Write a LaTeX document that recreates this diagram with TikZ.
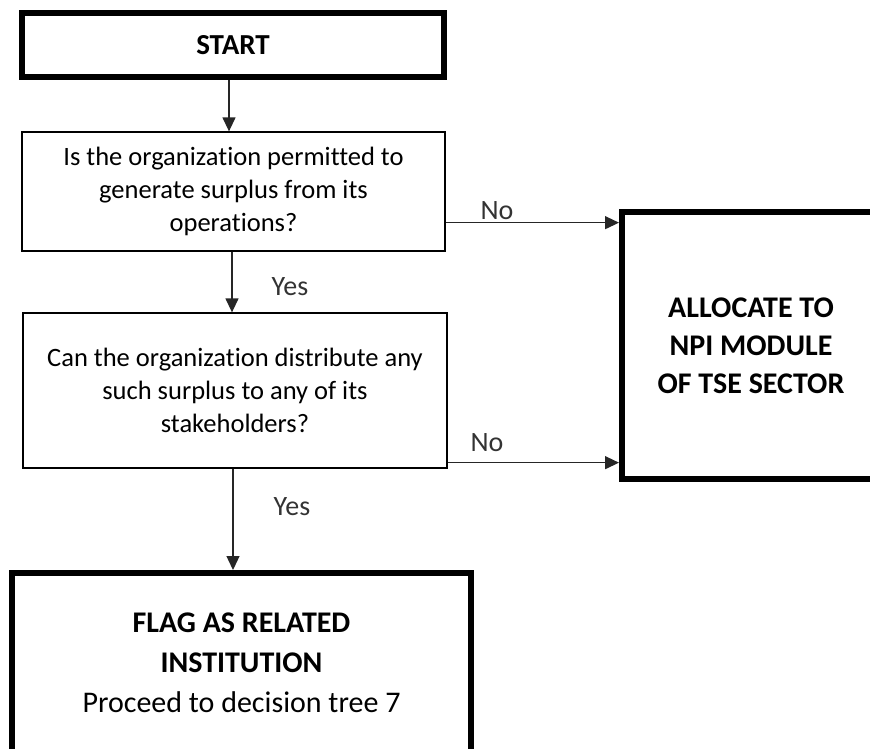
\documentclass[tikz,border=0pt]{standalone}
\usepackage{fontspec}
\setmainfont{Carlito}[Ligatures=NoCommon]
\usetikzlibrary{arrows.meta,calc}
\begin{document}
\begin{tikzpicture}[x=1pt,y=-1pt,
  thickbox/.style={draw, line width=6pt, inner sep=0pt, align=center},
  qbox/.style={draw, line width=1.3pt, inner sep=0pt, align=center,
    font=\fontsize{26.5}{33}\selectfont},
  arr/.style={-{Triangle[length=14pt,width=13pt]}, line width=1.3pt, draw=black!85, fill=black!85},
  lbl/.style={font=\fontsize{28}{30}\selectfont, text=black!80, inner sep=0pt}
]
\useasboundingbox (0,0) rectangle (870,748);
\clip (0,0) rectangle (870,748);

\node[thickbox, minimum width=422pt, minimum height=64pt,
  font=\fontsize{29}{33}\selectfont\bfseries] (start) at (233,45) {START};

\node[qbox, minimum width=423pt, minimum height=119pt] (q1) at (233.5,191.5)
  {Is the organization permitted to\\generate surplus from its\\operations?};

\node[qbox, minimum width=424pt, minimum height=155pt] (q2) at (235,390.5)
  {Can the organization distribute any\\such surplus to any of its\\stakeholders?};

\node[thickbox, minimum width=258pt, minimum height=267pt,
  font=\fontsize{30}{38}\selectfont\bfseries] (alloc) at (751,345.5)
  {ALLOCATE TO\\NPI MODULE\\OF TSE SECTOR};

\node[thickbox, minimum width=459pt, minimum height=180pt,
  font=\fontsize{30}{40}\selectfont] (flag) at (241.5,663)
  {\textbf{FLAG AS RELATED}\\\textbf{INSTITUTION}\\Proceed to decision tree 7};

% vertical arrows
\draw[arr] ([xshift=-4pt]start.south) -- ([xshift=-4pt]start.south |- q1.north);
\draw[arr] ([xshift=-1.5pt]q1.south) -- ([xshift=-1.5pt]q1.south |- q2.north);
\draw[arr] ([xshift=-2pt]q2.south) -- ([xshift=-2pt]q2.south |- flag.north);

% No arrows
\coordinate (n1) at ([yshift=29pt]q1.south east);
\coordinate (n2) at ([yshift=6pt]q2.south east);
\draw[arr] (n1) -- (n1 -| alloc.west);
\draw[arr] (n2) -- (n2 -| alloc.west);

% labels
\node[lbl] (no1) at (497,211) {No};
\node[lbl] (no2) at (487,443) {No};
\node[lbl] (yes1) at (290,287) {Yes};
\node[lbl] (yes2) at (292,507) {Yes};
\end{tikzpicture}
\end{document}
